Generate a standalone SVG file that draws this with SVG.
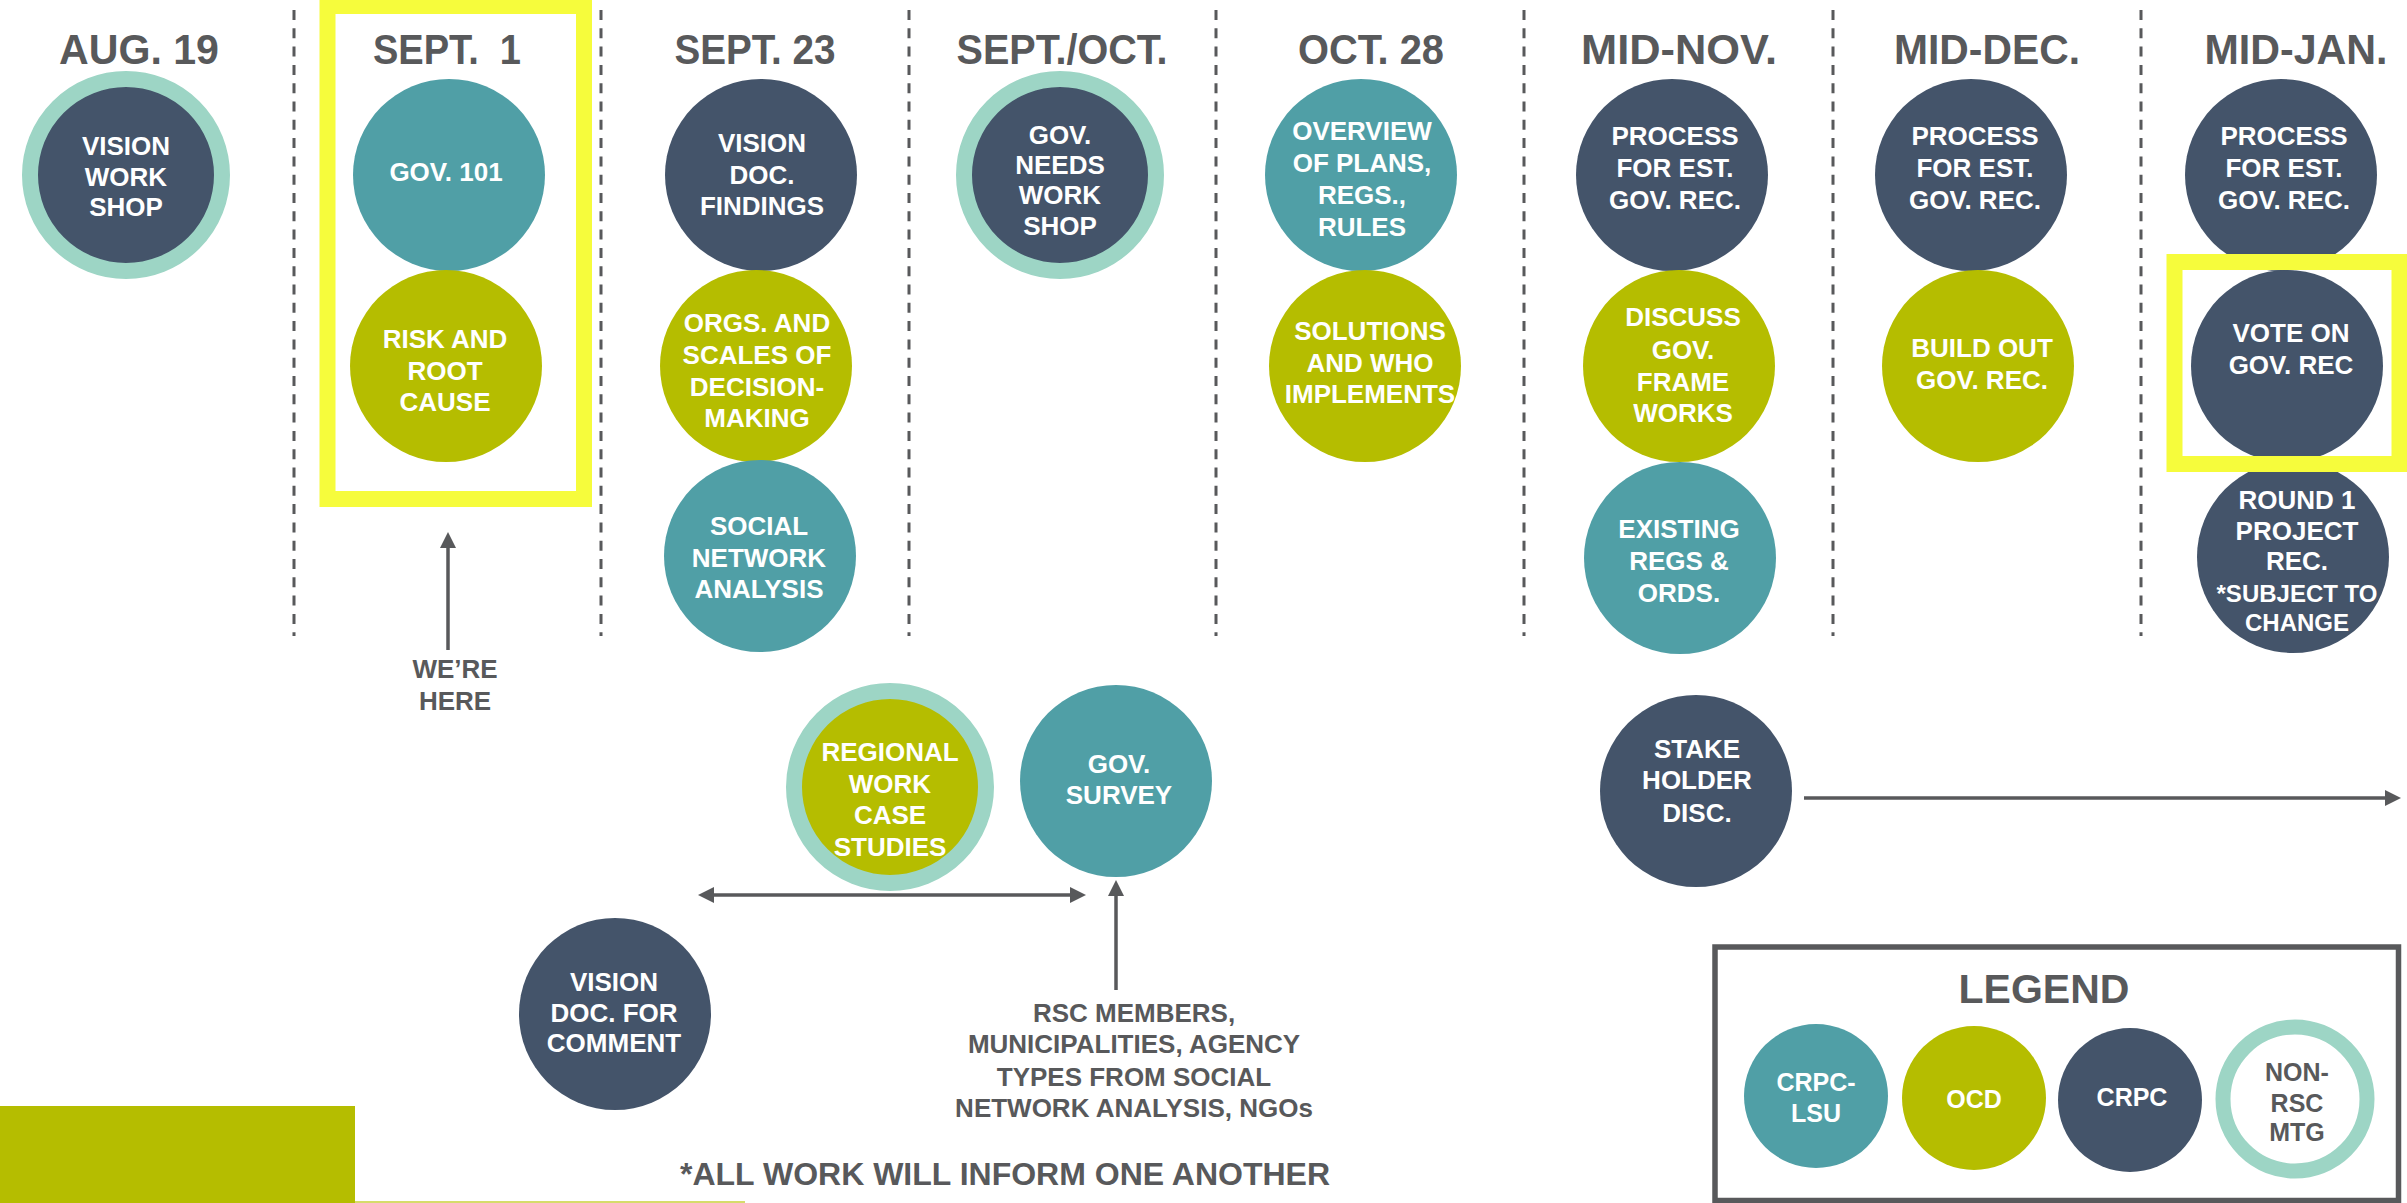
<svg xmlns="http://www.w3.org/2000/svg" width="2407" height="1203" viewBox="0 0 2407 1203">
  <style>
    .hdr { font-family: "Liberation Sans", Arial, sans-serif; font-weight: bold; font-size: 43px; fill: #58595b; text-anchor: middle; }
    .lbl { font-family: "Liberation Sans", Arial, sans-serif; font-weight: bold; font-size: 26px; fill: #ffffff; text-anchor: middle; }
    .note { font-family: "Liberation Sans", Arial, sans-serif; font-weight: bold; font-size: 26px; fill: #58595b; text-anchor: middle; }
    .sm { font-size: 24px; }
    .leg { font-size: 25px; }
    .title { font-size: 41px; }
    .foot { font-size: 32px; }
    .dark { fill: #44546a; }
    .teal { fill: #509fa6; }
    .olive { fill: #b5bd00; }
    .ring { stroke: #9dd5c5; stroke-width: 16; }
    .divider { stroke: #58595b; stroke-width: 3; stroke-dasharray: 10 8.3; }
    .highlight { fill: none; stroke: #f6fc3c; stroke-width: 16; }
    .conn { stroke: #58595b; stroke-width: 3.5; fill: none; }
  </style>
  <defs>
    <marker id="head" viewBox="0 0 16 16" refX="10" refY="8" markerWidth="16" markerHeight="16" markerUnits="userSpaceOnUse" orient="auto-start-reverse">
      <path d="M0,0 L16,8 L0,16 z" fill="#58595b"/>
    </marker>
  </defs>

  <rect width="2407" height="1203" fill="#ffffff"/>

  <!-- month columns -->
  <g id="dividers">
    <line class="divider" x1="294" y1="10" x2="294" y2="636"/>
    <line class="divider" x1="601" y1="10" x2="601" y2="636"/>
    <line class="divider" x1="909" y1="10" x2="909" y2="636"/>
    <line class="divider" x1="1216" y1="10" x2="1216" y2="636"/>
    <line class="divider" x1="1524" y1="10" x2="1524" y2="636"/>
    <line class="divider" x1="1833" y1="10" x2="1833" y2="636"/>
    <line class="divider" x1="2141" y1="10" x2="2141" y2="636"/>
  </g>

  <g id="headers">
    <text class="hdr" x="139" y="64" textLength="160" lengthAdjust="spacingAndGlyphs">AUG. 19</text>
    <text class="hdr" x="447" y="64" textLength="148" lengthAdjust="spacingAndGlyphs" xml:space="preserve">SEPT.  1</text>
    <text class="hdr" x="755" y="64" textLength="161" lengthAdjust="spacingAndGlyphs">SEPT. 23</text>
    <text class="hdr" x="1062" y="64" textLength="211" lengthAdjust="spacingAndGlyphs">SEPT./OCT.</text>
    <text class="hdr" x="1371" y="64" textLength="146" lengthAdjust="spacingAndGlyphs">OCT. 28</text>
    <text class="hdr" x="1679" y="64" textLength="196" lengthAdjust="spacingAndGlyphs">MID-NOV.</text>
    <text class="hdr" x="1987" y="64" textLength="186" lengthAdjust="spacingAndGlyphs">MID-DEC.</text>
    <text class="hdr" x="2296" y="64" textLength="183" lengthAdjust="spacingAndGlyphs">MID-JAN.</text>
  </g>

  <!-- AUG. 19 -->
  <g id="vision-workshop">
    <circle class="dark ring" cx="126" cy="175" r="96"/>
    <text class="lbl" x="126" y="155">VISION</text>
    <text class="lbl" x="126" y="186">WORK</text>
    <text class="lbl" x="126" y="216">SHOP</text>
  </g>

  <!-- SEPT. 1 -->
  <g id="gov-101">
    <circle class="teal" cx="449" cy="175" r="96"/>
    <text class="lbl" x="446" y="181">GOV. 101</text>
  </g>
  <g id="risk-root-cause">
    <circle class="olive" cx="446" cy="366" r="96"/>
    <text class="lbl" x="445" y="348">RISK AND</text>
    <text class="lbl" x="445" y="380">ROOT</text>
    <text class="lbl" x="445" y="411">CAUSE</text>
  </g>

  <!-- SEPT. 23 -->
  <g id="vision-doc-findings">
    <circle class="dark" cx="761" cy="175" r="96"/>
    <text class="lbl" x="762" y="152">VISION</text>
    <text class="lbl" x="762" y="184">DOC.</text>
    <text class="lbl" x="762" y="215">FINDINGS</text>
  </g>
  <g id="orgs-scales">
    <circle class="olive" cx="756" cy="366" r="96"/>
    <text class="lbl" x="757" y="332">ORGS. AND</text>
    <text class="lbl" x="757" y="364">SCALES OF</text>
    <text class="lbl" x="757" y="396">DECISION-</text>
    <text class="lbl" x="757" y="427">MAKING</text>
  </g>
  <g id="social-network-analysis">
    <circle class="teal" cx="760" cy="556" r="96"/>
    <text class="lbl" x="759" y="535">SOCIAL</text>
    <text class="lbl" x="759" y="567">NETWORK</text>
    <text class="lbl" x="759" y="598">ANALYSIS</text>
  </g>

  <!-- SEPT./OCT. -->
  <g id="gov-needs-workshop">
    <circle class="dark ring" cx="1060" cy="175" r="96"/>
    <text class="lbl" x="1060" y="144">GOV.</text>
    <text class="lbl" x="1060" y="174">NEEDS</text>
    <text class="lbl" x="1060" y="204">WORK</text>
    <text class="lbl" x="1060" y="235">SHOP</text>
  </g>

  <!-- OCT. 28 -->
  <g id="overview-plans">
    <circle class="teal" cx="1361" cy="175" r="96"/>
    <text class="lbl" x="1362" y="140">OVERVIEW</text>
    <text class="lbl" x="1362" y="172">OF PLANS,</text>
    <text class="lbl" x="1362" y="204">REGS.,</text>
    <text class="lbl" x="1362" y="236">RULES</text>
  </g>
  <g id="solutions">
    <circle class="olive" cx="1365" cy="366" r="96"/>
    <text class="lbl" x="1370" y="340">SOLUTIONS</text>
    <text class="lbl" x="1370" y="372">AND WHO</text>
    <text class="lbl" x="1370" y="403">IMPLEMENTS</text>
  </g>

  <!-- MID-NOV. -->
  <g id="process-nov">
    <circle class="dark" cx="1672" cy="175" r="96"/>
    <text class="lbl" x="1675" y="145">PROCESS</text>
    <text class="lbl" x="1675" y="177">FOR EST.</text>
    <text class="lbl" x="1675" y="209">GOV. REC.</text>
  </g>
  <g id="discuss-frameworks">
    <circle class="olive" cx="1679" cy="366" r="96"/>
    <text class="lbl" x="1683" y="326">DISCUSS</text>
    <text class="lbl" x="1683" y="359">GOV.</text>
    <text class="lbl" x="1683" y="391">FRAME</text>
    <text class="lbl" x="1683" y="422">WORKS</text>
  </g>
  <g id="existing-regs">
    <circle class="teal" cx="1680" cy="558" r="96"/>
    <text class="lbl" x="1679" y="538">EXISTING</text>
    <text class="lbl" x="1679" y="570">REGS &amp;</text>
    <text class="lbl" x="1679" y="602">ORDS.</text>
  </g>

  <!-- MID-DEC. -->
  <g id="process-dec">
    <circle class="dark" cx="1971" cy="175" r="96"/>
    <text class="lbl" x="1975" y="145">PROCESS</text>
    <text class="lbl" x="1975" y="177">FOR EST.</text>
    <text class="lbl" x="1975" y="209">GOV. REC.</text>
  </g>
  <g id="build-out">
    <circle class="olive" cx="1978" cy="366" r="96"/>
    <text class="lbl" x="1982" y="357">BUILD OUT</text>
    <text class="lbl" x="1982" y="389">GOV. REC.</text>
  </g>

  <!-- MID-JAN. -->
  <g id="process-jan">
    <circle class="dark" cx="2281" cy="175" r="96"/>
    <text class="lbl" x="2284" y="145">PROCESS</text>
    <text class="lbl" x="2284" y="177">FOR EST.</text>
    <text class="lbl" x="2284" y="209">GOV. REC.</text>
  </g>
  <g id="vote-gov-rec">
    <circle class="dark" cx="2287" cy="366" r="96"/>
    <text class="lbl" x="2291" y="342">VOTE ON</text>
    <text class="lbl" x="2291" y="374">GOV. REC</text>
  </g>
  <g id="round-1-project">
    <circle class="dark" cx="2293" cy="557" r="96"/>
    <text class="lbl" x="2297" y="509">ROUND 1</text>
    <text class="lbl" x="2297" y="540">PROJECT</text>
    <text class="lbl" x="2297" y="570">REC.</text>
    <text class="lbl sm" x="2297" y="602">*SUBJECT TO</text>
    <text class="lbl sm" x="2297" y="631">CHANGE</text>
  </g>

  <!-- current-step highlights -->
  <g id="highlights">
    <rect class="highlight" x="327.5" y="6" width="256.5" height="493" stroke-width="15"/>
    <rect class="highlight" x="2174.5" y="262" width="225" height="202"/>
  </g>

  <!-- ongoing work -->
  <g id="regional-case-studies">
    <circle class="olive ring" cx="890" cy="787" r="96"/>
    <text class="lbl" x="890" y="761">REGIONAL</text>
    <text class="lbl" x="890" y="793">WORK</text>
    <text class="lbl" x="890" y="824">CASE</text>
    <text class="lbl" x="890" y="856">STUDIES</text>
  </g>
  <g id="gov-survey">
    <circle class="teal" cx="1116" cy="781" r="96"/>
    <text class="lbl" x="1119" y="773">GOV.</text>
    <text class="lbl" x="1119" y="804">SURVEY</text>
  </g>
  <g id="vision-doc-comment">
    <circle class="dark" cx="615" cy="1014" r="96"/>
    <text class="lbl" x="614" y="991">VISION</text>
    <text class="lbl" x="614" y="1022">DOC. FOR</text>
    <text class="lbl" x="614" y="1052">COMMENT</text>
  </g>
  <g id="stakeholder-disc">
    <circle class="dark" cx="1696" cy="791" r="96"/>
    <text class="lbl" x="1697" y="758">STAKE</text>
    <text class="lbl" x="1697" y="789">HOLDER</text>
    <text class="lbl" x="1697" y="822">DISC.</text>
  </g>

  <g id="connectors">
    <line class="conn" x1="448" y1="650" x2="448" y2="538" marker-end="url(#head)"/>
    <line class="conn" x1="704" y1="895" x2="1080" y2="895" marker-start="url(#head)" marker-end="url(#head)"/>
    <line class="conn" x1="1116" y1="990" x2="1116" y2="886" marker-end="url(#head)"/>
    <line class="conn" x1="1804" y1="798" x2="2395" y2="798" marker-end="url(#head)"/>
  </g>

  <g id="annotations">
    <text class="note" x="455" y="678">WE’RE</text>
    <text class="note" x="455" y="710">HERE</text>
    <text class="note" x="1134" y="1022">RSC MEMBERS,</text>
    <text class="note" x="1134" y="1053">MUNICIPALITIES, AGENCY</text>
    <text class="note" x="1134" y="1086">TYPES FROM SOCIAL</text>
    <text class="note" x="1134" y="1117">NETWORK ANALYSIS, NGOs</text>
    <text class="note foot" x="1005" y="1185">*ALL WORK WILL INFORM ONE ANOTHER</text>
  </g>

  <g id="legend">
    <rect x="1715" y="947" width="683.5" height="253.5" fill="none" stroke="#58595b" stroke-width="5.5"/>
    <text class="note title" x="2044" y="1003">LEGEND</text>
    <circle class="teal" cx="1816" cy="1096" r="72"/>
    <text class="lbl leg" x="1816" y="1091">CRPC-</text>
    <text class="lbl leg" x="1816" y="1122">LSU</text>
    <circle class="olive" cx="1974" cy="1098" r="72"/>
    <text class="lbl leg" x="1974" y="1108">OCD</text>
    <circle class="dark" cx="2130" cy="1100" r="72"/>
    <text class="lbl leg" x="2132" y="1106">CRPC</text>
    <circle cx="2295" cy="1099" r="72" fill="#ffffff" stroke="#9dd5c5" stroke-width="15"/>
    <text class="note leg" x="2297" y="1081">NON-</text>
    <text class="note leg" x="2297" y="1112">RSC</text>
    <text class="note leg" x="2297" y="1141">MTG</text>
  </g>

  <!-- footer band -->
  <rect x="0" y="1106" width="355" height="97" fill="#b5bd00"/>
  <line x1="355" y1="1202" x2="745" y2="1202" stroke="#d6dc6a" stroke-width="2"/>
</svg>
